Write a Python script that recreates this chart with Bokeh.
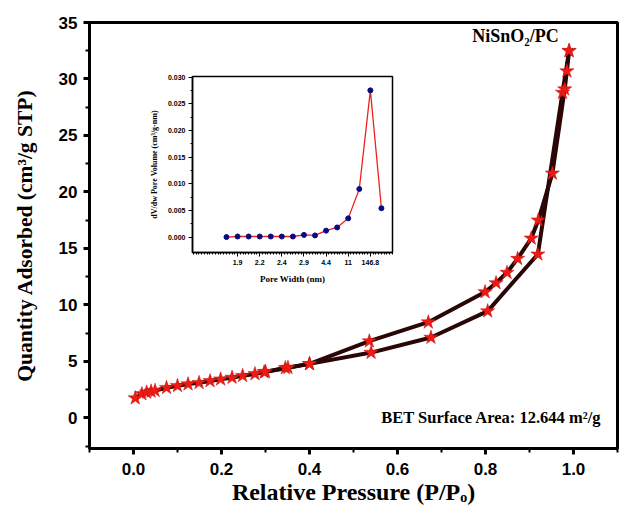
from bokeh.plotting import figure
from bokeh.layouts import column
from bokeh.models import Range1d, FixedTicker, NumeralTickFormatter, Label
from bokeh.embed import file_html
from bokeh.resources import INLINE

# ---------------- data ----------------
ads_p = [0.004, 0.019, 0.030, 0.040, 0.049, 0.075, 0.100, 0.124, 0.149, 0.174,
         0.198, 0.224, 0.248, 0.276, 0.297, 0.345, 0.400, 0.540, 0.676, 0.805,
         0.919, 0.975, 0.990]
ads_q = [1.76, 2.13, 2.27, 2.36, 2.42, 2.68, 2.85, 3.00, 3.12, 3.28,
         3.43, 3.58, 3.74, 3.90, 4.06, 4.43, 4.79, 5.79, 7.12, 9.46,
         14.49, 28.8, 32.5]
des_p = [0.990, 0.985, 0.980, 0.952, 0.920, 0.904, 0.873, 0.849, 0.824, 0.799,
         0.670, 0.536, 0.400, 0.351, 0.300]
des_q = [32.5, 30.7, 29.1, 21.65, 17.5, 15.9, 14.1, 12.87, 11.95, 11.15,
         8.48, 6.80, 4.79, 4.45, 4.10]

pore_idx = list(range(15))
pore_dv = [0.0000, 0.0001, 0.0001, 0.0001, 0.0001, 0.0001, 0.0001, 0.0004,
           0.0003, 0.0012, 0.0018, 0.0035, 0.0090, 0.0275, 0.0054]
pore_tick_idx = [1, 3, 5, 7, 9, 11, 13]
pore_tick_labels = ["1.9", "2.2", "2.4", "2.9", "4.4", "11", "146.8"]

x_major = [0.0, 0.2, 0.4, 0.6, 0.8, 1.0]
x_minor = [-0.1, 0.1, 0.3, 0.5, 0.7, 0.9, 1.1]
y_major = [0, 5, 10, 15, 20, 25, 30, 35]
y_minor = [-2.5, 2.5, 7.5, 12.5, 17.5, 22.5, 27.5, 32.5]

SERIF = "Liberation Serif"
SANS = "Liberation Sans"
LINE_C = "#2a0606"
STAR_C = "#ee1b14"

W, H = 623, 509
p = figure(width=W, height=H, output_backend="svg", toolbar_location=None,
           x_range=Range1d(-0.1, 1.1), y_range=Range1d(-2.7, 35),
           min_border_left=89, min_border_right=6, min_border_top=22,
           min_border_bottom=61)
p.background_fill_color = "white"
p.border_fill_color = "white"
p.grid.visible = False
p.outline_line_color = "black"
p.outline_line_width = 3

for ax in (p.xaxis[0], p.yaxis[0]):
    ax.axis_line_width = 3
    ax.major_tick_line_width = 3
    ax.minor_tick_line_width = 2
    ax.major_tick_out = 6
    ax.major_tick_in = 0
    ax.minor_tick_out = 4
    ax.minor_tick_in = 0
    ax.major_label_text_font = SANS
    ax.major_label_text_font_style = "bold"
    ax.major_label_text_font_size = "17px"
    ax.major_label_text_color = "black"
    ax.axis_label_text_font = SERIF
    ax.axis_label_text_font_style = "bold"
    ax.axis_label_text_color = "black"

p.xaxis.ticker = FixedTicker(ticks=x_major, minor_ticks=x_minor)
p.yaxis.ticker = FixedTicker(ticks=y_major, minor_ticks=y_minor)
p.xaxis.formatter = NumeralTickFormatter(format="0.0")
p.xaxis.axis_label = "Relative Pressure (P/Pₒ)"
p.yaxis.axis_label = "Quantity Adsorbed (cm³/g STP)"
p.xaxis.axis_label_text_font_size = "24px"
p.yaxis.axis_label_text_font_size = "21.5px"
p.xaxis.major_label_standoff = 8
p.xaxis.axis_label_standoff = 1
p.yaxis.major_label_standoff = 6
p.yaxis.axis_label_standoff = 19

p.line(ads_p, ads_q, line_color=LINE_C, line_width=4)
p.line(des_p, des_q, line_color=LINE_C, line_width=4)
p.scatter(ads_p, ads_q, marker="star", size=15, fill_color=STAR_C,
          line_color="#c01010", line_width=0.5)
p.scatter(des_p, des_q, marker="star", size=15, fill_color=STAR_C,
          line_color="#c01010", line_width=0.5)

p.add_layout(Label(x=0.77, y=32.9, text="NiSnO₂/PC", text_font=SERIF,
                   text_font_style="bold", text_font_size="18px",
                   text_color="black"))
p.add_layout(Label(x=0.563, y=-0.8, text="BET Surface Area: 12.644 m²/g",
                   text_font=SERIF, text_font_style="bold",
                   text_font_size="16.5px", text_color="black"))

# ---------------- inset ----------------
IW, IH = 295, 220
ins = figure(width=IW, height=IH, output_backend="svg", toolbar_location=None,
             x_range=Range1d(-3.07, 15.0), y_range=Range1d(-0.0029, 0.0301),
             min_border_left=43, min_border_right=3, min_border_top=6,
             min_border_bottom=38)
ins.grid.visible = False
ins.outline_line_color = "black"
ins.outline_line_width = 1.5
ins.background_fill_color = "white"
ins.border_fill_color = None
for ax in (ins.xaxis[0], ins.yaxis[0]):
    ax.axis_line_width = 1.5
    ax.major_tick_line_width = 1
    ax.minor_tick_line_width = 1
    ax.major_tick_out = 4
    ax.major_tick_in = 0
    ax.minor_tick_out = 2
    ax.minor_tick_in = 0
    ax.major_label_text_font = SANS
    ax.major_label_text_font_style = "bold"
    ax.major_label_text_font_size = "7px"
    ax.major_label_text_color = "black"
    ax.axis_label_text_font = SERIF
    ax.axis_label_text_font_style = "bold"
    ax.axis_label_text_color = "black"
    ax.major_label_standoff = 3
    ax.axis_label_standoff = 6

ins.xaxis.ticker = FixedTicker(ticks=pore_tick_idx,
                               minor_ticks=[i * 0.25 for i in range(-12, 61)])
ins.xaxis.major_label_overrides = dict(zip(pore_tick_idx, pore_tick_labels))
ins.yaxis.ticker = FixedTicker(ticks=[0, 0.005, 0.01, 0.015, 0.02, 0.025, 0.03],
                               minor_ticks=[0.0025, 0.0075, 0.0125, 0.0175,
                                            0.0225, 0.0275])
ins.yaxis.formatter = NumeralTickFormatter(format="0.000")
ins.xaxis.axis_label = "Pore Width (nm)"
ins.yaxis.axis_label = "dV/dw Pore Volume (cm³/g·nm)"
ins.xaxis.axis_label_text_font_size = "9px"
ins.yaxis.axis_label_text_font_size = "8px"

ins.line(pore_idx, pore_dv, line_color="#ee2020", line_width=1.3)
ins.scatter(pore_idx, pore_dv, marker="circle", size=5, fill_color="#0a0a80",
            line_color="#0a0a80")

ins.margin = (-(H - 70), 0, 0, 103)

layout = column(p, ins)
open("out.html", "w").write(file_html(layout, INLINE))
